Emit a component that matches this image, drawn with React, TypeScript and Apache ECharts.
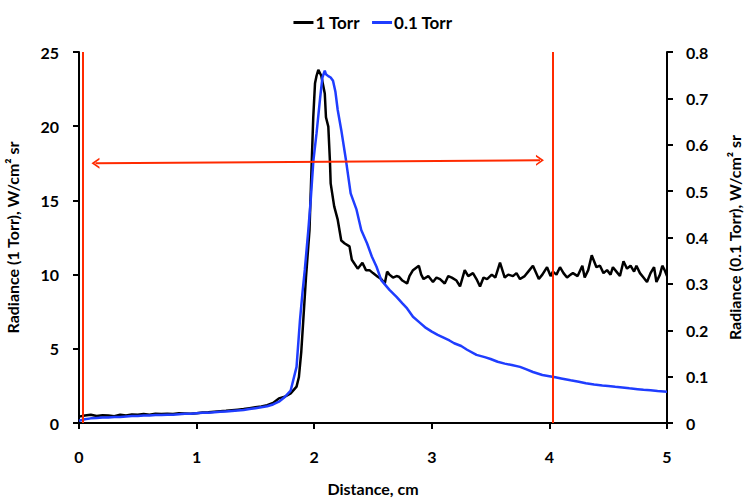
import React, { useEffect, useRef } from 'react';
import * as echarts from 'echarts';

// 1 Torr (left axis)
const torr1Dist = [
  0.0, 0.05, 0.1, 0.15, 0.2, 0.25, 0.3, 0.35, 0.4, 0.45, 0.5, 0.55, 0.6, 0.65, 0.7, 0.75, 0.8, 0.85, 0.9, 0.95,
  1.0, 1.05, 1.1, 1.15, 1.2, 1.25, 1.3, 1.35, 1.4, 1.45, 1.5, 1.55, 1.6, 1.65, 1.7, 1.75, 1.8, 1.85, 1.87, 1.89,
  1.907, 1.93, 1.96, 1.979, 1.992, 2.007, 2.02, 2.035, 2.06, 2.09, 2.1, 2.12, 2.134, 2.14, 2.17, 2.2, 2.23, 2.26,
  2.3, 2.32, 2.37, 2.41, 2.44, 2.47, 2.5, 2.54, 2.57, 2.6, 2.62, 2.64, 2.67, 2.7, 2.72, 2.75, 2.79, 2.81, 2.84,
  2.89, 2.91, 2.93, 2.97, 3.01, 3.04, 3.07, 3.11, 3.14, 3.17, 3.21, 3.24, 3.28, 3.31, 3.35, 3.38, 3.41, 3.44,
  3.47, 3.51, 3.54, 3.58, 3.62, 3.65, 3.69, 3.72, 3.75, 3.79, 3.82, 3.86, 3.91, 3.94, 3.98, 4.01, 4.03, 4.06,
  4.09, 4.12, 4.15, 4.18, 4.2, 4.24, 4.28, 4.3, 4.33, 4.36, 4.4, 4.43, 4.46, 4.49, 4.52, 4.54, 4.57, 4.6, 4.63,
  4.66, 4.69, 4.72, 4.74, 4.77, 4.8, 4.83, 4.86, 4.89, 4.91, 4.94, 4.96, 4.98, 5.0,
];
const torr1Rad = [
  0.43, 0.5, 0.56, 0.47, 0.52, 0.5, 0.46, 0.55, 0.5, 0.58, 0.55, 0.6, 0.56, 0.63, 0.6, 0.62, 0.6, 0.66, 0.64, 0.62,
  0.65, 0.7, 0.72, 0.76, 0.8, 0.82, 0.86, 0.9, 0.94, 1.0, 1.06, 1.12, 1.2, 1.35, 1.66, 1.77, 2.0, 2.45, 3.1, 4.8,
  6.9, 9.8, 13.0, 17.6, 20.6, 22.9, 23.4, 23.8, 23.4, 22.2, 20.6, 19.97, 17.6, 16.15, 14.6, 13.7, 12.3, 12.1,
  11.9, 11.0, 10.4, 10.8, 10.3, 10.3, 10.1, 9.86, 9.7, 9.4, 10.2, 10.0, 9.8, 9.9, 9.86, 9.6, 9.4, 9.9, 10.3,
  10.6, 10.0, 9.7, 9.9, 9.5, 9.8, 9.7, 9.4, 9.9, 9.8, 9.6, 9.2, 10.3, 9.9, 10.1, 9.7, 9.2, 9.8,
  9.7, 10.0, 9.8, 10.8, 9.8, 10.0, 9.9, 10.1, 9.7, 9.9, 10.2, 10.6, 9.7, 10.0, 10.5, 9.9, 10.2, 10.0,
  10.5, 10.1, 9.8, 10.0, 10.1, 9.9, 10.6, 9.8, 10.3, 11.3, 10.5, 10.6, 10.1, 10.3, 10.0, 10.5, 10.2, 9.9, 10.9,
  10.4, 10.6, 10.2, 10.6, 10.1, 9.8, 9.5, 10.1, 10.5, 9.5, 10.0, 10.6, 10.3, 9.9,
];

// 0.1 Torr (right axis)
const torr01Dist = [
  0.0, 0.05, 0.1, 0.15, 0.2, 0.25, 0.3, 0.35, 0.4, 0.45, 0.5, 0.55, 0.6, 0.65, 0.7, 0.75, 0.8, 0.85, 0.9, 0.95,
  1.0, 1.05, 1.1, 1.15, 1.2, 1.25, 1.3, 1.35, 1.4, 1.45, 1.5, 1.55, 1.6, 1.65, 1.7, 1.75, 1.8, 1.85, 1.879, 1.9,
  1.92, 1.95, 1.97, 1.993, 2.02, 2.05, 2.07, 2.09, 2.1, 2.12, 2.14, 2.16, 2.18, 2.2, 2.23, 2.27, 2.31, 2.36, 2.4,
  2.45, 2.49, 2.53, 2.57, 2.64, 2.7, 2.75, 2.79, 2.84, 2.9, 2.95, 3.0, 3.05, 3.1, 3.15, 3.19, 3.25, 3.3, 3.38,
  3.45, 3.5, 3.56, 3.62, 3.68, 3.75, 3.8, 3.86, 3.94, 4.0, 4.05, 4.1, 4.18, 4.25, 4.31, 4.38, 4.45, 4.5, 4.56,
  4.62, 4.68, 4.75, 4.8, 4.86, 4.92, 5.0,
];
const torr01Rad = [
  0.005, 0.008, 0.01, 0.011, 0.012, 0.012, 0.013, 0.013, 0.014, 0.015, 0.015, 0.016, 0.016, 0.017, 0.017, 0.018,
  0.018, 0.019, 0.02, 0.02, 0.021, 0.022, 0.022, 0.023, 0.024, 0.025, 0.026, 0.027, 0.028, 0.03, 0.032, 0.034,
  0.036, 0.04, 0.046, 0.056, 0.07, 0.121, 0.222, 0.28, 0.33, 0.416, 0.48, 0.565, 0.625, 0.7, 0.745, 0.76, 0.752,
  0.748, 0.745, 0.738, 0.715, 0.675, 0.632, 0.567, 0.495, 0.46, 0.416, 0.387, 0.359, 0.337, 0.308, 0.287, 0.272,
  0.258, 0.247, 0.229, 0.216, 0.205, 0.197, 0.19, 0.184, 0.178, 0.172, 0.166, 0.158, 0.147, 0.142, 0.138, 0.132,
  0.128, 0.125, 0.121, 0.116, 0.11, 0.1035, 0.101, 0.0985, 0.096, 0.092, 0.089, 0.0856, 0.083, 0.081, 0.0798,
  0.078, 0.0765, 0.0748, 0.073, 0.0715, 0.0705, 0.069, 0.0675,
];

const redLines = [0.03, 4.03];
const arrowFrom = [0.14, 17.5];
const arrowTo = [3.92, 17.7];

const FONT = 'Lato, "Open Sans", sans-serif';
const RED = '#ff2a00';

const App = () => {
  const chartRef = useRef(null);

  useEffect(() => {
    const chart = echarts.init(chartRef.current, null, { renderer: 'svg' });

    const axisLine = { show: true, lineStyle: { color: '#000', width: 2 } };
    const axisTick = { show: true, inside: false, length: 6, lineStyle: { color: '#000', width: 2 } };
    const axisLabel = { color: '#000', fontFamily: FONT, fontWeight: 'bold', fontSize: 16 };
    const nameStyle = { color: '#000', fontFamily: FONT, fontWeight: 'bold', fontSize: 16 };
    const chevron = 'path://M0,10 L5,0 L10,10 L8.2,10 L5,3.6 L1.8,10 Z';

    chart.setOption({
      animation: false,
      legend: {
        data: ['1 Torr', '0.1 Torr'],
        top: 9,
        left: 'center',
        icon: 'rect',
        itemWidth: 20,
        itemHeight: 3,
        itemGap: 12,
        textStyle: { color: '#000', fontFamily: FONT, fontWeight: 'bold', fontSize: 17, padding: [0, 0, 0, -3] },
      },
      grid: { left: 79, right: 79, top: 52, bottom: 78, outerBoundsMode: 'none', containLabel: false },
      xAxis: {
        type: 'value',
        min: 0,
        max: 5,
        interval: 1,
        name: 'Distance, cm',
        nameLocation: 'middle',
        nameGap: 57,
        nameTextStyle: nameStyle,
        axisLine,
        axisTick,
        axisLabel: { ...axisLabel, margin: 25 },
        splitLine: { show: false },
      },
      yAxis: [
        {
          type: 'value',
          min: 0,
          max: 25,
          interval: 5,
          position: 'left',
          name: 'Radiance (1 Torr), W/cm² sr',
          nameLocation: 'middle',
          nameGap: 59,
          nameTextStyle: nameStyle,
          axisLine,
          axisTick,
          axisLabel: { ...axisLabel, margin: 20 },
          splitLine: { show: false },
        },
        {
          type: 'value',
          min: 0,
          max: 0.8,
          interval: 0.1,
          position: 'right',
          name: 'Radiance (0.1 Torr), W/cm² sr',
          nameLocation: 'middle',
          nameGap: 59,
          nameTextStyle: nameStyle,
          axisLine,
          axisTick,
          axisLabel: { ...axisLabel, margin: 19 },
          splitLine: { show: false },
        },
      ],
      series: [
        {
          name: '1 Torr',
          type: 'line',
          yAxisIndex: 0,
          symbol: 'none',
          color: '#000',
          lineStyle: { color: '#000', width: 2.5 },
          data: torr1Dist.map((d, i) => [d, torr1Rad[i]]),
          markLine: {
            silent: true,
            symbol: 'none',
            label: { show: false },
            lineStyle: { color: RED, width: 2, type: 'solid' },
            data: [
              ...redLines.map((x) => ({ xAxis: x })),
              [
                { coord: arrowFrom, symbol: chevron, symbolSize: [11, 8] },
                { coord: arrowTo, symbol: chevron, symbolSize: [11, 8] },
              ],
            ],
          },
        },
        {
          name: '0.1 Torr',
          type: 'line',
          yAxisIndex: 1,
          symbol: 'none',
          color: '#1f3dff',
          lineStyle: { color: '#1f3dff', width: 2.5 },
          data: torr01Dist.map((d, i) => [d, torr01Rad[i]]),
        },
      ],
    });

    const onResize = () => chart.resize();
    window.addEventListener('resize', onResize);
    return () => {
      window.removeEventListener('resize', onResize);
      chart.dispose();
    };
  }, []);

  return (
    <div
      ref={chartRef}
      style={{ position: 'absolute', left: 0, top: 0, width: '746px', height: '501px', background: '#fff' }}
    ></div>
  );
};

export default App;
